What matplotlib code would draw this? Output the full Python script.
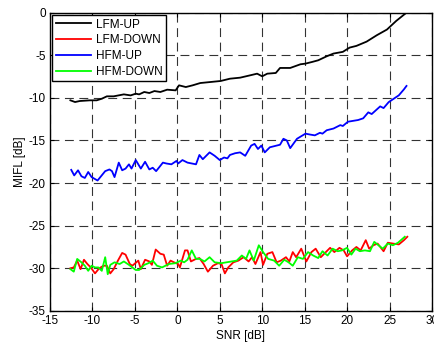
import matplotlib
matplotlib.use("Agg")
import matplotlib.pyplot as plt

plt.rcParams['font.family'] = ['Liberation Sans', 'DejaVu Sans']
plt.rcParams['font.size'] = 8.5
plt.rcParams['axes.unicode_minus'] = False

# LFM-UP (black)
snr_lfm_up = [-12.6, -12.05, -11.5, -10.3, -9.5, -8.9, -8.3, -7.5, -6.3, -5.5, -4.9, -4.5,
              -3.9, -3.3, -2.7, -2.0, -1.2, -0.2, 0.2, 1.0, 1.8, 2.7, 3.9, 5.1, 6.2, 7.4,
              8.6, 9.4, 10.0, 10.6, 11.6, 12.1, 13.3, 14.5, 15.1, 15.9, 16.6, 17.6, 18.4,
              19.5, 20.3, 21.1, 22.3, 23.5, 24.7, 25.8, 27.0]
mifl_lfm_up = [-10.29, -10.49, -10.37, -10.29, -10.29, -10.1, -9.82, -9.82, -9.59, -9.71,
               -9.51, -9.59, -9.31, -9.43, -9.2, -9.31, -9.04, -9.12, -8.53, -8.73, -8.53,
               -8.26, -8.14, -8.02, -7.75, -7.63, -7.35, -7.16, -7.47, -7.16, -7.08, -6.49,
               -6.49, -6.06, -5.98, -5.78, -5.59, -5.12, -4.8, -4.6, -4.1, -3.9, -3.4,
               -2.65, -1.98, -0.96, 0.0]

# HFM-UP (blue)
snr_hfm_up = [-12.5, -12.15, -11.7, -11.3, -10.9, -10.5, -10.1, -9.4, -8.5, -8.0, -7.7,
              -7.4, -6.9, -6.5, -6.1, -5.7, -5.4, -4.9, -4.3, -3.8, -3.3, -2.9, -2.5,
              -1.7, -1.3, -0.7, -0.1, 0.1, 0.6, 1.2, 2.2, 2.6, 3.0, 3.8, 4.4, 5.0, 5.5,
              5.9, 6.2, 6.8, 7.4, 8.0, 8.7, 9.1, 9.5, 9.9, 10.3, 10.9, 11.7, 12.1, 12.5,
              12.9, 13.3, 14.1, 15.1, 15.6, 16.2, 16.8, 17.1, 17.6, 18.4, 19.2, 19.5,
              20.1, 21.3, 21.9, 22.5, 22.9, 23.9, 24.3, 24.9, 25.5, 26.1, 26.7, 27.0]
mifl_hfm_up = [-18.45, -19.1, -18.5, -19.2, -19.4, -18.7, -19.3, -19.7, -18.6, -18.4,
               -18.6, -19.3, -17.6, -18.5, -18.3, -17.8, -18.3, -17.3, -18.3, -17.5,
               -18.4, -18.2, -18.6, -17.6, -17.7, -17.8, -17.4, -17.7, -17.3, -17.6,
               -17.8, -16.7, -17.2, -16.4, -16.8, -17.3, -17.0, -17.1, -16.7, -16.5,
               -16.4, -16.8, -15.6, -15.4, -16.0, -15.6, -16.4, -15.8, -15.6, -15.5,
               -14.8, -15.0, -15.9, -14.8, -14.2, -14.3, -14.4, -14.1, -14.2, -13.8,
               -13.6, -13.2, -13.3, -12.8, -12.6, -12.4, -11.7, -11.9, -11.0, -11.2,
               -10.5, -10.1, -9.7, -9.0, -8.6]

# LFM-DOWN (red)
snr_lfm_down = [-12.6, -12.2, -11.8, -11.4, -11.0, -10.6, -10.2, -9.7, -9.2, -8.7, -8.3,
                -7.9, -7.5, -7.0, -6.5, -6.1, -5.6, -5.3, -4.6, -4.3, -3.8, -3.3, -3.0,
                -2.55, -2.0, -1.6, -1.2, -0.8, -0.4, 0.1, 0.3, 0.9, 1.2, 1.6, 2.2, 2.6,
                3.1, 3.6, 4.2, 4.8, 5.2, 5.6, 6.0, 6.6, 7.2, 7.8, 8.4, 8.8, 9.2, 9.8,
                10.1, 10.6, 11.2, 11.7, 12.2, 12.8, 13.2, 13.6, 14.0, 14.6, 15.2, 15.8,
                16.3, 16.9, 17.5, 18.0, 18.5, 19.1, 19.6, 20.0, 20.6, 21.1, 21.6, 22.2,
                22.6, 23.1, 23.6, 24.3, 24.8, 25.4, 26.1, 26.7, 27.1]
mifl_lfm_down = [-30.0, -29.9, -29.1, -30.1, -29.0, -29.5, -29.9, -30.6, -30.0, -29.7,
                 -29.7, -30.6, -30.1, -29.1, -28.2, -28.4, -29.5, -29.7, -29.1, -30.1,
                 -29.0, -29.2, -29.6, -27.8, -28.3, -28.4, -29.7, -29.1, -29.3, -29.5,
                 -29.9, -27.9, -27.9, -29.2, -28.9, -28.8, -29.5, -30.4, -29.7, -29.4,
                 -29.5, -30.6, -29.9, -29.3, -29.1, -28.7, -29.2, -28.7, -29.5, -28.1,
                 -29.6, -28.3, -28.1, -29.3, -29.1, -28.7, -29.2, -28.1, -28.7, -27.7,
                 -29.2, -28.1, -27.7, -28.7, -28.1, -27.6, -28.1, -27.6, -27.9, -28.6,
                 -27.9, -27.5, -27.9, -26.7, -27.7, -27.3, -27.1, -28.0, -27.0, -27.1,
                 -27.2, -26.7, -26.3]

# HFM-DOWN (green)
snr_hfm_down = [-12.6, -12.2, -11.8, -11.3, -10.9, -10.5, -10.1, -9.7, -9.3, -8.9, -8.5,
                -8.2, -7.9, -7.4, -6.8, -6.3, -5.7, -4.9, -4.5, -3.9, -3.4, -2.9, -2.4,
                -1.8, -1.0, -0.2, 0.4, 0.8, 1.2, 1.7, 2.2, 2.67, 3.2, 3.8, 4.4, 5.2, 5.8,
                6.4, 7.0, 7.6, 8.1, 8.5, 9.0, 9.6, 10.1, 10.7, 11.4, 12.0, 12.6, 13.1,
                13.6, 14.2, 14.8, 15.4, 16.0, 16.6, 17.1, 17.7, 18.3, 18.9, 19.4, 20.0,
                20.5, 21.0, 21.5, 22.1, 22.7, 23.2, 23.7, 24.2, 24.8, 25.4, 26.0, 26.8]
mifl_hfm_down = [-30.1, -30.4, -28.9, -29.3, -29.7, -30.3, -29.7, -29.9, -29.9, -30.3,
                 -28.7, -30.7, -29.6, -29.3, -29.5, -29.2, -29.6, -30.2, -30.2, -29.6,
                 -29.4, -29.1, -29.7, -29.9, -29.5, -29.4, -29.1, -29.3, -29.0, -27.9,
                 -28.9, -28.9, -29.2, -28.7, -29.3, -29.4, -29.3, -29.2, -29.1, -28.5,
                 -28.9, -27.9, -29.1, -27.3, -28.1, -28.9, -29.1, -29.7, -29.0, -29.3,
                 -29.7, -28.7, -28.9, -28.1, -28.5, -28.8, -28.0, -28.5, -27.7, -28.0,
                 -27.9, -27.6, -28.4, -27.7, -28.0, -27.9, -28.0, -26.9, -27.3, -27.7,
                 -27.1, -27.3, -27.0, -26.3]

xticks = [-15, -10, -5, 0, 5, 10, 15, 20, 25, 30]
yticks = [-35, -30, -25, -20, -15, -10, -5, 0]

fig = plt.figure(figsize=(4.35, 3.42), dpi=100)
ax = fig.add_axes([0.115, 0.091, 0.878, 0.872])

ax.plot(snr_lfm_up, mifl_lfm_up, color='k', lw=1.3, label='LFM-UP')
ax.plot(snr_lfm_down, mifl_lfm_down, color='#ff0000', lw=1.3, label='LFM-DOWN')
ax.plot(snr_hfm_up, mifl_hfm_up, color='#0000ff', lw=1.3, label='HFM-UP')
ax.plot(snr_hfm_down, mifl_hfm_down, color='#00ff00', lw=1.3, label='HFM-DOWN')

ax.set_xlim(-15, 30)
ax.set_ylim(-35, 0)
ax.set_xticks(xticks)
ax.set_yticks(yticks)
ax.grid(True, color='k', linestyle=(0, (8, 5)), lw=0.8, alpha=0.8)
ax.tick_params(direction='in', top=True, right=True, length=3, pad=3, labelsize=8.5)
for s in ax.spines.values():
    s.set_linewidth(1.0)

ax.set_xlabel('SNR [dB]', fontsize=8.5, labelpad=2)
ax.set_ylabel('MIFL [dB]', fontsize=8.5, labelpad=2)

leg = ax.legend(loc='upper left', fontsize=8.5, fancybox=False, edgecolor='k',
                framealpha=1, borderaxespad=0.2, handlelength=3.0,
                handletextpad=0.4, borderpad=0.3, labelspacing=0.32)
leg.get_frame().set_linewidth(1.0)

fig.savefig('out.png', dpi=100)
